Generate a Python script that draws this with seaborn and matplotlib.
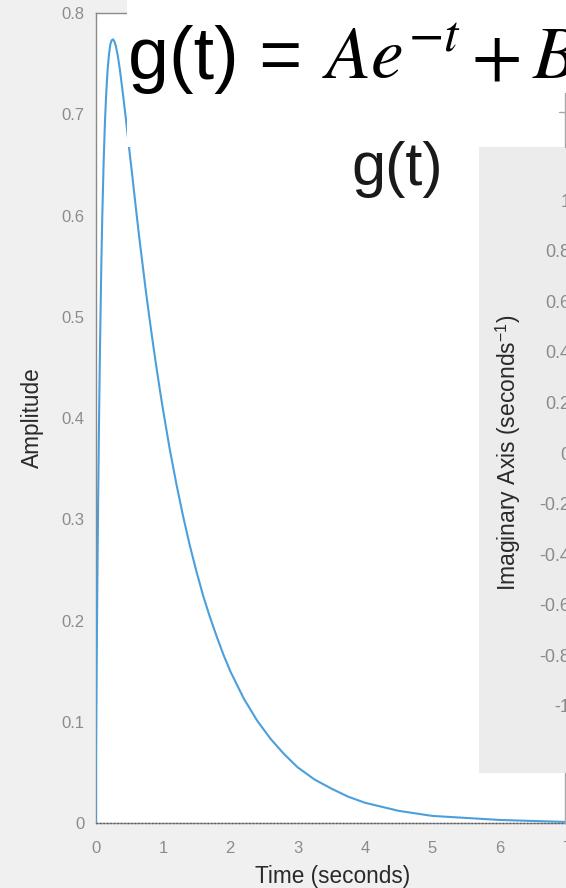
import matplotlib
matplotlib.use("Agg")
import matplotlib.pyplot as plt
from matplotlib.patches import Rectangle
from matplotlib.lines import Line2D
import seaborn as sns
import pandas as pd

# Impulse response samples
time_s = [0.0, 0.01, 0.02, 0.03, 0.04, 0.05, 0.06, 0.07, 0.08, 0.09, 0.10,
          0.12, 0.14, 0.16, 0.18, 0.20, 0.22, 0.24, 0.26, 0.28, 0.30, 0.33,
          0.36, 0.40, 0.45, 0.50, 0.55, 0.60, 0.65, 0.70, 0.75, 0.80, 0.85,
          0.90, 0.95, 1.00, 1.10, 1.20, 1.30, 1.40, 1.50, 1.60, 1.70, 1.80,
          1.90, 2.00, 2.20, 2.40, 2.60, 2.80, 3.00, 3.25, 3.50, 3.75, 4.00,
          4.50, 5.00, 5.50, 6.00, 6.50, 7.00, 8.00]
amplitude = [0.0, 0.095, 0.179, 0.255, 0.323, 0.383, 0.437, 0.484, 0.526,
             0.564, 0.597, 0.651, 0.692, 0.722, 0.744, 0.759, 0.769, 0.773,
             0.774, 0.772, 0.768, 0.758, 0.745, 0.724, 0.696, 0.666, 0.637,
             0.607, 0.578, 0.551, 0.524, 0.499, 0.475, 0.452, 0.430, 0.409,
             0.370, 0.335, 0.303, 0.274, 0.248, 0.224, 0.203, 0.184, 0.166,
             0.150, 0.123, 0.101, 0.083, 0.068, 0.055, 0.043, 0.034, 0.026,
             0.020, 0.012, 0.007, 0.005, 0.003, 0.002, 0.001, 0.0]

amp_ticks = [0, 0.1, 0.2, 0.3, 0.4, 0.5, 0.6, 0.7, 0.8]
amp_labels = ["0", "0.1", "0.2", "0.3", "0.4", "0.5", "0.6", "0.7", "0.8"]
time_ticks = [0, 1, 2, 3, 4, 5, 6, 7, 8]
imag_ticks = [-1, -0.8, -0.6, -0.4, -0.2, 0, 0.2, 0.4, 0.6, 0.8, 1]
imag_labels = ["-1", "-0.8", "-0.6", "-0.4", "-0.2", "0", "0.2", "0.4", "0.6", "0.8", "1"]

sns.set_style("white")
plt.rcParams["font.family"] = ["Liberation Sans", "DejaVu Sans"]
plt.rcParams["mathtext.fontset"] = "stix"

W, H = 566, 888


def fx(p):
    return p / W


def fy(p):
    return 1 - p / H


fig = plt.figure(figsize=(W / 100, H / 100), dpi=100, facecolor="#f0f0f0")

# Main impulse-response axes (runs past the right edge)
ax = fig.add_axes([fx(95.5), fy(823), 539 / W, 810 / H], zorder=0)
ax.set_facecolor("white")
df = pd.DataFrame({"Time": time_s, "Amplitude": amplitude})
sns.lineplot(data=df, x="Time", y="Amplitude", ax=ax, color="#4a9fdc",
             linewidth=1.5, zorder=3)
ax.set_xlim(0, 8)
ax.set_ylim(0, 0.8)
ax.set_xticks(time_ticks)
ax.set_xticklabels([str(t) for t in time_ticks])
ax.set_yticks(amp_ticks)
ax.set_yticklabels(amp_labels)
for s in ax.spines.values():
    s.set_color("#8a8a8a")
    s.set_linewidth(1.0)
# dotted steady-state line drawn over the bottom spine
ax.axhline(0, color="#5a5a5a", linestyle=(0, (1, 1.5)), linewidth=1.0,
           zorder=2.6, clip_on=False)
ax.tick_params(direction="in", length=4.3, width=0.8, color="#858585",
               labelcolor="#8c8c8c", labelsize=12, top=True, right=True)
ax.tick_params(axis="x", pad=13.0)
ax.tick_params(axis="y", pad=8.0)
ax.set_xlabel("Time (seconds)", fontsize=16.3, color="#2a2a2a")
ax.set_ylabel("Amplitude", fontsize=16.3, color="#2a2a2a")
ax.xaxis.set_label_coords((333 - 95.5) / 539, (823 - 865) / 810)
ax.yaxis.set_label_coords((44 - 95.5) / 539, 0.5)

# White banner and grey pole-zero panel
fig.add_artist(Rectangle((fx(127), fy(147)), (W - 127) / W, 147 / H,
                         transform=fig.transFigure, facecolor="white",
                         edgecolor="none", zorder=1))
fig.add_artist(Rectangle((fx(479), fy(773)), (W - 479) / W, (773 - 147) / H,
                         transform=fig.transFigure, facecolor="#ececec",
                         edgecolor="none", zorder=1))
for xs, ys in [([565, 565], [93, 147]), ([559, 566], [112, 112]),
               ([565, 565], [773, 823])]:
    fig.add_artist(Line2D([fx(x) for x in xs], [fy(y) for y in ys],
                          transform=fig.transFigure, color="#a8a8a8",
                          linewidth=1.0, zorder=1.5))

# Pole-zero axes: only its tick labels and y-label fall inside the figure
ax2 = fig.add_axes([fx(575), fy(731), 325 / W, (731 - 175) / H], zorder=2)
ax2.patch.set_visible(False)
for s in ax2.spines.values():
    s.set_visible(False)
ax2.set_ylim(-1.1, 1.1)
ax2.set_xticks([])
ax2.set_yticks(imag_ticks)
ax2.set_yticklabels(imag_labels)
ax2.tick_params(axis="y", length=0, pad=3.3, labelsize=13, labelcolor="#8a8a8a")
ax2.set_ylabel("Imaginary Axis (seconds$^{\\mathregular{-1}}$)", fontsize=16.5,
               color="#2a2a2a")
ax2.yaxis.set_label_coords((523 - 575) / 325, 0.5)

# Titles
fig.text(fx(128), fy(79), "g(t) =", fontsize=53, color="black",
         ha="left", va="baseline", zorder=3)
fig.text(fx(322), fy(79), r"$Ae^{-t}+B$", fontsize=53, color="black",
         ha="left", va="baseline", zorder=3)
fig.text(fx(397), fy(185), "g(t)", fontsize=44, color="#1a1a1a",
         ha="center", va="baseline", zorder=3)

fig.savefig("out.png", dpi=100, facecolor=fig.get_facecolor())
